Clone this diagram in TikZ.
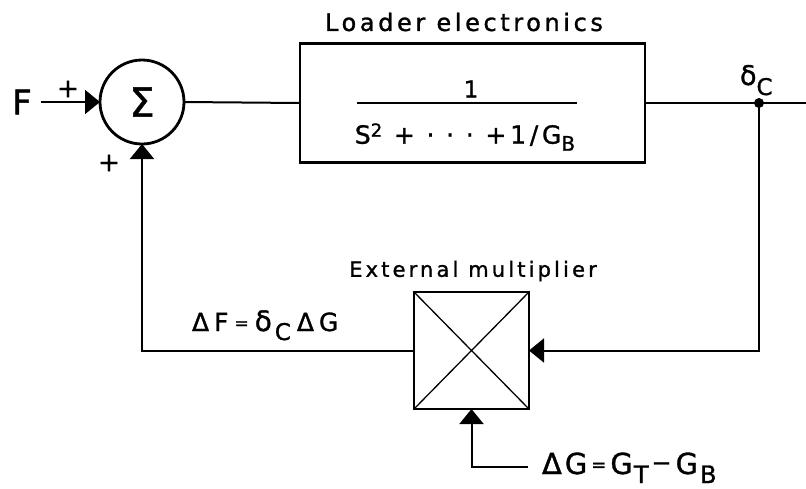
\documentclass[tikz,border=0pt]{standalone}
\usepackage{fontspec}
\setmainfont{DejaVu Sans}[LetterSpace=15,FakeBold=1.2]
\usetikzlibrary{arrows.meta}
\newcommand\fs[1]{\fontsize{#1}{#1}\selectfont}
\newcommand\lowsub[2]{\raisebox{-#1}{#2}}
\begin{document}
\begin{tikzpicture}[x=1pt,y=-1pt,
  blk/.style={draw, line width=2.6pt, inner sep=0pt, outer sep=0pt},
  conn/.style={line width=2pt},
  tipd/.style={-{Triangle[length=15pt,width=24pt]}},
  lbl/.style={inner sep=0pt, outer sep=0pt}]
\useasboundingbox (0,0) rectangle (806,488);
% summing junction
\node[circle, draw, line width=2.8pt, minimum size=84pt, inner sep=0pt, outer sep=0pt, font=\fs{40}] (sum) at (142,102) {Σ};
\node[lbl, font=\fs{34}] (F) at (22,102) {F};
\node[lbl, font=\fs{26}] (p1) at (68,89) {+};
\node[lbl, font=\fs{26}] (p2) at (109,163) {+};
% loader electronics
\node[blk, minimum width=345pt, minimum height=119pt] (le) at (472.5,103) {};
\node[lbl, font=\fs{24}] (lel) at (464,22) {Loader electronics};
\node[lbl, font=\fs{23}] (num) at (471,89) {1};
\coordinate (fl1) at (357,103);
\coordinate (fl2) at (577,103);
\draw[line width=2pt] (fl1) -- (fl2);
\node[lbl, font=\fs{25}] (den) at (465,137) {S\raisebox{7pt}{\fs{18}2} + · · · +1/G\lowsub{7pt}{\fs{20}B}};
% output
\coordinate (dot) at (759,103);
\coordinate (out) at (806,103);
\fill (dot) circle (5pt);
\node[lbl, anchor=base west, font=\fs{27}] (dc) at (740,85) {δ\lowsub{10pt}{\fs{23}C}};
% multiplier
\node[blk, minimum width=115pt, minimum height=117pt] (mx) at (471.5,350.5) {};
\draw[line width=1.3pt] (mx.north west) -- (mx.south east) (mx.north east) -- (mx.south west);
\node[lbl, font=\fs{21}] (eml) at (473,271) {External multiplier};
\node[lbl, anchor=base west, font=\fs{25}] (dfl) at (192,331) {Δ\hspace{5pt}F\hspace{6pt}\raisebox{2pt}{\fs{17}=}\hspace{6pt}{\fs{28}δ}\hspace{3pt}\lowsub{9pt}{\fs{23}C}\hspace{6pt}Δ\hspace{5pt}G};
\coordinate (gin) at (528,467);
\node[lbl, anchor=base west, font=\fs{29}] (dgl) at (542,474) {Δ\hspace{3pt}G\hspace{4pt}\raisebox{3pt}{\fs{18}=}\hspace{4pt}G\hspace{1pt}\lowsub{9pt}{\fs{24}T}\hspace{3pt}\raisebox{3pt}{\fs{24}−}\hspace{4pt}G\hspace{2pt}\lowsub{9pt}{\fs{24}B}};
% connectors
\draw[conn, tipd, shorten <=9pt] (F.east) -- (sum.west);
\draw[conn] (sum.east) -- (le.west);
\draw[conn] (le.east) -- (out);
\draw[conn, tipd] (dot) |- (mx.east);
\draw[conn, tipd] (mx.west) -| (sum.south);
\draw[conn, tipd] (gin) -| (mx.south);
\end{tikzpicture}
\end{document}
